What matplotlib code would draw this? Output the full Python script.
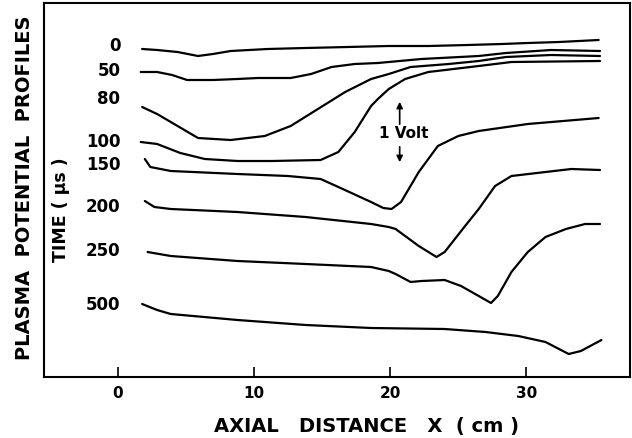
import matplotlib
matplotlib.use("Agg")
import matplotlib.pyplot as plt

plt.rcParams["font.family"] = ["DejaVu Sans"]
plt.rcParams["font.weight"] = "bold"

# trace height (arbitrary units, stacked profiles) vs axial distance (cm)
x_0 = [1.8, 2.9, 4.4, 5.9, 7.0, 8.3, 11.0, 13.8, 16.9, 19.9, 22.8, 25.7, 28.2, 30.1, 32.4, 35.3]
v_0 = [328, 327, 325, 321, 323, 326, 328, 329, 330, 331, 331, 332, 333, 334, 335, 337]

x_50 = [1.7, 2.9, 4.0, 5.1, 7.0, 8.8, 10.3, 12.7, 14.2, 15.7, 17.4, 19.1, 22.3, 26.5, 28.5, 31.8, 35.4]
v_50 = [305, 305, 302, 297, 297, 298, 299, 299, 303, 310, 313, 314, 318, 321, 324, 327, 326]

x_80 = [1.8, 2.9, 3.9, 4.9, 5.9, 8.3, 10.8, 12.7, 14.7, 16.7, 18.6, 19.9, 21.5, 24.3, 26.5, 28.5, 31.8, 35.4]
v_80 = [270, 263, 255, 247, 239, 237, 241, 251, 268, 285, 298, 303, 310, 313, 316, 320, 322, 321]

x_100 = [1.7, 2.9, 4.6, 6.4, 8.8, 11.3, 14.9, 16.2, 17.4, 18.6, 19.1, 19.9, 21.1, 22.8, 26.5, 28.9, 35.4]
v_100 = [235, 233, 224, 218, 216, 216, 217, 225, 245, 271, 278, 288, 298, 305, 311, 315, 316]

x_150 = [2.0, 2.4, 3.9, 8.8, 12.5, 14.9, 16.2, 18.6, 19.5, 20.1, 20.8, 22.1, 23.5, 25.0, 26.5, 30.1, 35.3]
v_150 = [218, 210, 206, 203, 201, 198, 190, 175, 169, 168, 175, 205, 231, 241, 246, 253, 259]

x_200 = [2.0, 2.7, 3.9, 8.8, 13.8, 18.6, 19.9, 20.4, 22.1, 23.4, 24.0, 25.5, 26.5, 27.7, 28.9, 31.4, 33.3, 35.4]
v_200 = [176, 170, 168, 165, 160, 153, 150, 148, 131, 120, 125, 151, 168, 191, 201, 205, 208, 207]

x_250 = [2.2, 3.9, 8.8, 13.8, 18.6, 19.9, 20.4, 21.5, 22.3, 24.0, 25.2, 26.5, 27.4, 27.9, 28.9, 30.1, 31.4, 32.9, 34.3, 35.4]
v_250 = [125, 121, 116, 113, 110, 106, 103, 95, 96, 97, 91, 81, 74, 81, 105, 125, 140, 148, 153, 153]

x_500 = [1.8, 2.9, 3.9, 8.8, 13.8, 18.6, 24.0, 27.0, 29.4, 31.4, 33.1, 34.0, 35.5]
v_500 = [73, 67, 63, 57, 52, 49, 48, 45, 41, 35, 23, 26, 37]

times = ["0", "50", "80", "100", "150", "200", "250", "500"]
time_label_y = [332, 307, 279, 236, 213, 171, 127, 73]
xticks = [0, 10, 20, 30]

profiles = [(x_0, v_0), (x_50, v_50), (x_80, v_80), (x_100, v_100),
            (x_150, v_150), (x_200, v_200), (x_250, v_250), (x_500, v_500)]

fig = plt.figure(figsize=(6.32, 4.39), dpi=100)
ax = fig.add_axes([44 / 632, 61 / 439, 586 / 632, 374 / 439])

for xs, vs in profiles:
    ax.plot(xs, vs, color="black", lw=1.6, solid_joinstyle="round", solid_capstyle="round")

for t, ty in zip(times, time_label_y):
    ax.text(0.2, ty, t, ha="right", va="center", fontsize=12, fontweight="bold")

# 1 volt scale bar
ax.annotate("", xy=(20.7, 278), xytext=(20.7, 250),
            arrowprops=dict(arrowstyle="-|>", color="black", lw=1.2, mutation_scale=9))
ax.annotate("", xy=(20.7, 212), xytext=(20.7, 233),
            arrowprops=dict(arrowstyle="-|>", color="black", lw=1.2, mutation_scale=9))
ax.text(21.0, 244, "1 Volt", ha="center", va="center", fontsize=11, fontweight="bold")

ax.set_xlim(-5.4, 37.6)
ax.set_ylim(0, 374)
ax.set_xticks(xticks)
ax.set_xticklabels([str(t) for t in xticks])
ax.set_yticks([])
ax.tick_params(axis="x", direction="in", length=7.5, width=1.2, pad=6, labelsize=11)
for s in ax.spines.values():
    s.set_linewidth(1.5)

fig.text(366 / 632, 1 - 427 / 439, "AXIAL   DISTANCE   X  ( cm )", ha="center", va="center",
         fontsize=14, fontweight="bold")
fig.text(25 / 632, 1 - 188 / 439, "PLASMA  POTENTIAL  PROFILES", ha="center", va="center",
         rotation=90, fontsize=14, fontweight="bold")
fig.text(61 / 632, 1 - 210 / 439, "TIME ( \u03bcs )", ha="center", va="center",
         rotation=90, fontsize=12.5, fontweight="bold")

fig.savefig("out.png", dpi=100)
